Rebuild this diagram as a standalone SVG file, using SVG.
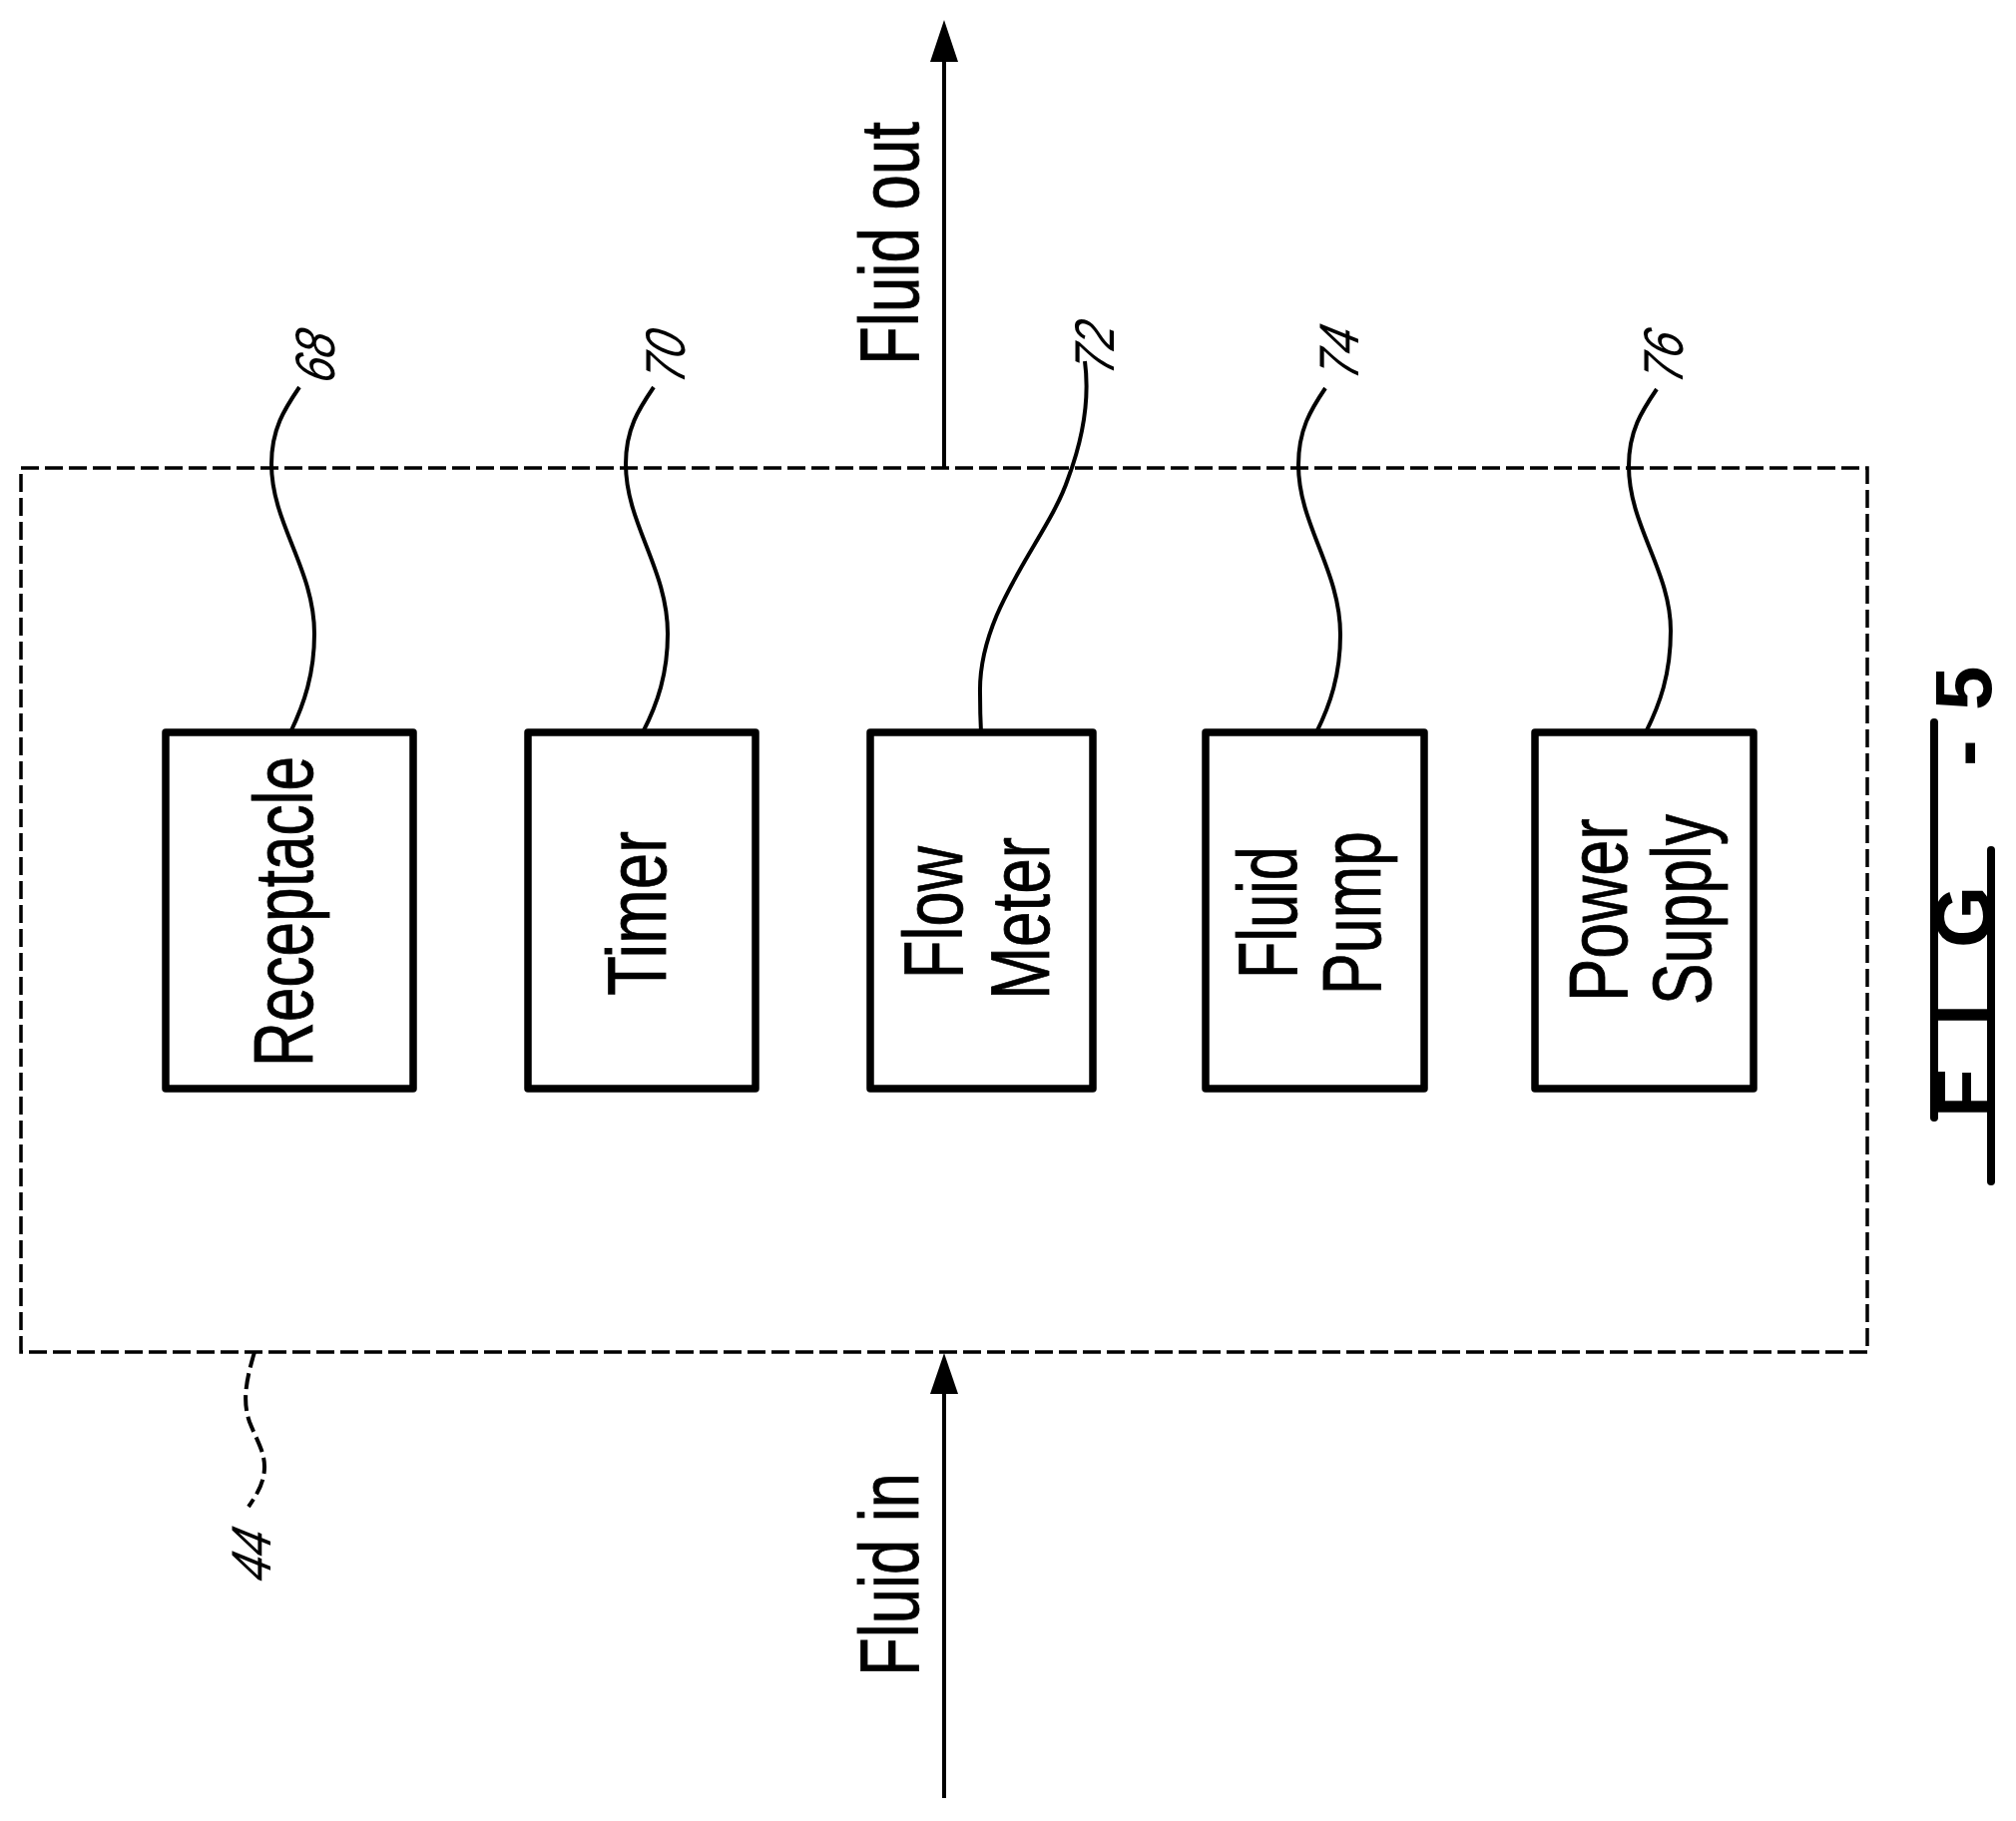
<svg xmlns="http://www.w3.org/2000/svg" width="2020" height="1825" viewBox="0 0 2020 1825">
<style>
text{font-family:"Liberation Sans",Arial,sans-serif;fill:#000}
.box{fill:#fff;stroke:#000;stroke-width:7.5;stroke-linejoin:round}
.lbl{font-size:84px;stroke:#000;stroke-width:.8}
.num{font-size:56px;font-style:italic}
.lead{fill:none;stroke:#000;stroke-width:4}
.flow{fill:none;stroke:#000;stroke-width:4}
.bar{fill:none;stroke:#000;stroke-width:8;stroke-linecap:round}
</style>
<rect id="boundary" x="21" y="469" width="1850" height="886" fill="none" stroke="#000" stroke-width="3.5" stroke-dasharray="18 6"/>
<g id="connectors">
<line class="flow" x1="946" y1="469" x2="946" y2="62"/>
<path d="M932 62L946 20L960 62Z" fill="#000"/>
<line class="flow" x1="946" y1="1802" x2="946" y2="1395"/>
<path d="M932 1397L946 1356L960 1397Z" fill="#000"/>
<path class="lead" d="M300 388C285 410 272 430 272 465C272 525 315 570 315 635C315 675 305 705 291 734"/>
<path class="lead" d="M655 388C640 410 627 430 627 465C627 525 669 570 669 635C669 675 659 705 644 734"/>
<path class="lead" d="M1087 362C1092 400 1085 440 1070 480C1050 540 980 610 982 695Q982 715 983 734"/>
<path class="lead" d="M1328 389C1313 411 1301 431 1301 466C1301 526 1343 571 1343 636C1343 676 1333 706 1319 734"/>
<path class="lead" d="M1660 390C1645 412 1632 432 1632 467C1632 527 1674 572 1674 632C1674 676 1663 706 1649 734"/>
<path d="M255 1355C246 1385 243 1405 250 1425C258 1445 265 1455 265 1470C265 1485 258 1497 249 1510" fill="none" stroke="#000" stroke-width="4" stroke-dasharray="16 6"/>
</g>
<g id="n68"><rect class="box" x="166" y="734" width="248" height="357"/><text class="lbl" transform="translate(313 1069) rotate(-90)" textLength="311" lengthAdjust="spacingAndGlyphs">Receptacle</text></g>
<g id="n70"><rect class="box" x="529" y="734" width="228" height="357"/><text class="lbl" transform="translate(667 998) rotate(-90)" textLength="165" lengthAdjust="spacingAndGlyphs">Timer</text></g>
<g id="n72"><rect class="box" x="872" y="734" width="223" height="357"/><text class="lbl" transform="translate(964 981) rotate(-90)" textLength="133" lengthAdjust="spacingAndGlyphs">Flow</text><text class="lbl" transform="translate(1051 1002) rotate(-90)" textLength="163" lengthAdjust="spacingAndGlyphs">Meter</text></g>
<g id="n74"><rect class="box" x="1208" y="734" width="219" height="357"/><text class="lbl" transform="translate(1299 981) rotate(-90)" textLength="133" lengthAdjust="spacingAndGlyphs">Fluid</text><text class="lbl" transform="translate(1383 997) rotate(-90)" textLength="164" lengthAdjust="spacingAndGlyphs">Pump</text></g>
<g id="n76"><rect class="box" x="1538" y="734" width="219" height="357"/><text class="lbl" transform="translate(1630 1004) rotate(-90)" textLength="184" lengthAdjust="spacingAndGlyphs">Power</text><text class="lbl" transform="translate(1714 1007) rotate(-90)" textLength="191" lengthAdjust="spacingAndGlyphs">Supply</text></g>
<g id="labels">
<text class="lbl" transform="translate(920 366) rotate(-90)" textLength="244" lengthAdjust="spacingAndGlyphs">Fluid out</text>
<text class="lbl" transform="translate(920 1680) rotate(-90)" textLength="204" lengthAdjust="spacingAndGlyphs">Fluid in</text>
<text class="num" transform="translate(335 386) rotate(-90) skewX(-14)" textLength="50" lengthAdjust="spacingAndGlyphs">68</text>
<text class="num" transform="translate(686 386) rotate(-90) skewX(-14)" textLength="50" lengthAdjust="spacingAndGlyphs">70</text>
<text class="num" transform="translate(1116 377) rotate(-90) skewX(-14)" textLength="50" lengthAdjust="spacingAndGlyphs">72</text>
<text class="num" transform="translate(1361 382) rotate(-90) skewX(-14)" textLength="50" lengthAdjust="spacingAndGlyphs">74</text>
<text class="num" transform="translate(1686 386) rotate(-90) skewX(-14)" textLength="50" lengthAdjust="spacingAndGlyphs">76</text>
<text class="num" transform="translate(271 1587) rotate(-90) skewX(-14)" textLength="50" lengthAdjust="spacingAndGlyphs">44</text>
</g>
<g id="figure-label">
<line class="bar" x1="1938" y1="724" x2="1938" y2="1120"/>
<line class="bar" x1="1995" y1="852" x2="1995" y2="1184"/>
<text transform="translate(1995 1120) rotate(-90)" x="0 92 170 352 408" font-size="80" font-weight="bold">FIG-5</text>
</g>
</svg>
